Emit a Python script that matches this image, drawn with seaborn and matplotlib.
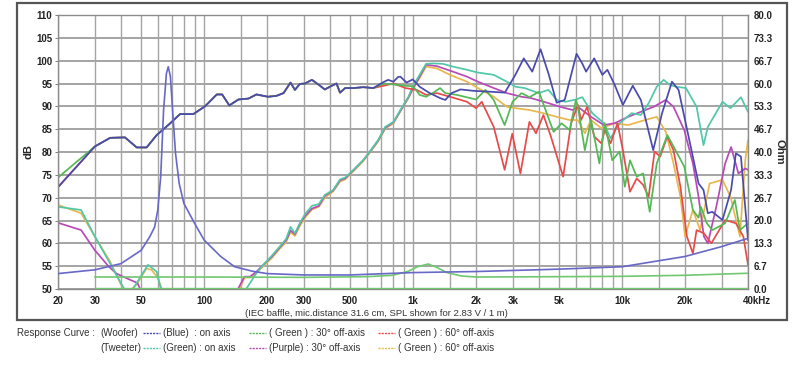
import matplotlib
matplotlib.use("Agg")
import matplotlib.pyplot as plt
import matplotlib.transforms as mtransforms
from matplotlib.lines import Line2D
from matplotlib.patches import Rectangle
from matplotlib.ticker import NullLocator
import seaborn as sns

sns.set_theme(style="white")
plt.rcParams["font.family"] = ["Liberation Sans", "DejaVu Sans"]

# --- data (Hz / dB / Ohm) ---
woofer_lf_freq = [30, 35.5, 41.8, 47.6, 53.1, 59.3, 67.4, 76.7, 88.8, 101, 115, 122,
                  132, 146, 163, 178, 202, 222, 240, 259, 272, 287, 304, 328, 354,
                  378, 400, 430, 447, 473, 518, 577, 645]
woofer_lf_db = [81.2, 83.1, 83.2, 81.0, 81.0, 83.7, 85.9, 88.3, 88.3, 90.0, 92.6, 92.6,
                90.2, 91.5, 91.7, 92.6, 92.1, 92.3, 92.9, 95.2, 93.6, 94.9, 95.0, 95.8, 94.7,
                93.7, 94.3, 95.0, 93.0, 94.0, 94.0, 94.2, 94.0]

woofer_on_freq = [721, 759, 805, 846, 869, 930, 996, 1074, 1200, 1346, 1425, 1528, 1685,
                  1940, 2335, 2746, 3084, 3384, 3713, 4070, 4440, 4860, 5310, 6050, 6440,
                  6720, 7350, 8040, 8500, 9210, 10080, 11240, 12290, 14080, 15520, 17310,
                  18620, 20780, 23200, 24500, 25700, 27000, 30200, 33200, 35000, 37000, 40000]
woofer_on_db = [95.3, 95.8, 95.4, 96.4, 96.5, 95.2, 95.9, 94.3, 92.9, 91.8, 91.4, 92.9, 93.7,
                93.4, 93.2, 93.0, 96.9, 100.5, 97.6, 102.5, 97.2, 90.8, 91.4, 101.5, 99.4,
                97.6, 100.5, 96.9, 98.0, 94.7, 90.3, 94.5, 91.4, 80.4, 88.5, 95.4,
                93.6, 83.4, 73.1, 71.7, 66.6, 66.9, 65.1, 71.7, 79.7, 79.0, 60.7]

woofer_30_freq = [721, 805, 920, 1000, 1074, 1153, 1250, 1346, 1425, 1620, 2000, 2220, 2430,
                  2740, 2990, 3300, 3600, 4000, 4300, 4700, 5130, 5610, 6010, 6140, 6630,
                  7100, 7780, 8260, 8970, 9720, 10300, 10900, 11740, 12600, 13550, 14640,
                  16450, 18000, 19820, 21800, 23200, 23800, 25400, 27000, 31100, 34600,
                  36600, 40000]
woofer_30_db = [95.0, 94.8, 94.5, 94.4, 92.5, 92.1, 93.0, 94.0, 92.9, 92.5, 91.5, 93.6, 91.4,
                85.9, 91.0, 92.9, 92.0, 93.2, 89.2, 84.4, 86.3, 84.8, 91.4, 89.9, 80.4,
                87.0, 77.5, 86.3, 78.2, 80.1, 72.4, 78.2, 74.6, 75.3, 66.9, 77.5,
                83.7, 80.4, 76.8, 67.3, 65.6, 68.0, 64.4, 62.9, 64.4, 69.5,
                62.9, 64.4]

woofer_60_freq = [721, 805, 920, 1040, 1153, 1300, 1500, 1810, 2000, 2130, 2430, 2740, 2980,
                  3260, 3600, 3870, 4200, 4560, 5220, 5700, 6140, 6360, 6800, 7350, 7950,
                  8260, 8800, 9500, 10080, 10900, 11740, 12600, 13390, 14290, 15200, 16450,
                  17600, 19000, 20400, 21800, 22700, 24600, 26700, 31100, 35000, 38000, 40000]
woofer_60_db = [94.5, 95.0, 94.0, 93.6, 92.5, 92.9, 92.1, 91.0, 89.6, 91.0, 85.5, 76.1, 84.0,
                75.3, 86.6, 84.1, 88.1, 83.4, 74.6, 86.3, 90.3, 87.0, 89.9, 83.4, 81.9,
                84.8, 81.9, 86.3, 80.4, 71.3, 74.2, 72.8, 70.2, 80.1, 79.0, 83.4,
                80.4, 72.4, 61.5, 57.8, 62.9, 62.2, 60.0, 65.1, 64.4, 61.5, 55.3]

tweeter_on_freq = [20, 25.8, 30, 35.5, 38.4, 41.5, 44, 47.6, 53.9, 59.3, 62.5, 66, 150, 159,
                   178, 192, 211, 230, 247, 259, 272, 287, 304, 328, 354, 378, 415, 447, 473,
                   518, 577, 620, 680, 735, 805, 869, 950, 996, 1074, 1153, 1240, 1390, 1550,
                   1810, 2040, 2430, 2807, 3084, 3422, 3980, 4440, 4860, 5350, 6010, 6440,
                   7200, 8180, 8800, 9720, 11100, 12290, 13390, 14640, 15800, 16900, 18050,
                   20200, 22700, 24500, 25700, 30200, 33000, 37000, 40000]
tweeter_on_db = [68.0, 67.3, 61.5, 55.6, 52.7, 50.0, 49.0, 51.3, 55.3, 53.8, 49.5, 45.0, 45.0, 50.0,
                 53.5, 55.3, 57.3, 59.3, 61.0, 63.6, 62.2, 64.4, 66.4, 68.2, 68.6, 70.6, 71.7, 74.0, 74.4,
                 76.1, 78.2, 80.1, 82.6, 85.5, 86.6, 89.2, 92.1, 94.4, 96.9, 99.3, 99.4, 99.3, 98.7,
                 98.0, 97.4, 96.9, 95.4, 94.3, 94.0, 92.9, 93.6, 91.4, 91.0, 91.5, 92.0,
                 88.5, 86.3, 83.0, 86.3, 88.5, 88.1, 90.7, 94.3, 95.8, 94.7, 94.3,
                 94.0, 89.9, 81.5, 85.5, 91.0, 89.6, 92.0, 88.8]

tweeter_30_freq = [20, 25.8, 30, 35, 38, 41, 48, 50, 53, 140, 146, 156, 166, 178, 192, 211,
                   230, 247, 259, 272, 287, 304, 328, 354, 378, 415, 447, 473, 518, 577, 620,
                   680, 735, 805, 869, 950, 1000, 1074, 1153, 1300, 1550, 1810, 2040, 2430,
                   2807, 3300, 3670, 4440, 5050, 5800, 6140, 7100, 8180, 9210, 10680, 12290,
                   14150, 16180, 17600, 19820, 21800, 23200, 24600, 25700, 28200, 31100,
                   33200, 36000, 38800, 40000]
tweeter_30_db = [64.5, 62.9, 58.5, 54.9, 53.4, 52.7, 51.3, 49.5, 45.0, 46.0, 50.2, 52.7, 52.7, 53.8, 55.3, 57.1,
                 59.1, 60.7, 62.8, 62.0, 64.2, 66.0, 67.6, 68.2, 70.4, 71.6, 73.8, 74.2, 76.0, 78.2, 80.0,
                 82.5, 85.3, 86.5, 89.0, 92.0, 94.0, 96.5, 99.1, 98.8, 97.6, 96.5, 95.4, 94.0,
                 92.9, 92.1, 91.8, 90.7, 89.9, 89.2, 89.9, 87.7, 85.9, 86.3, 87.7, 88.8,
                 89.9, 91.4, 89.9, 84.8, 77.5, 70.2, 61.5, 60.0, 68.0, 77.5,
                 81.1, 75.3, 76.4, 76.1]

tweeter_60_freq = [20, 25.8, 30, 35.5, 41, 44, 47.6, 53, 56, 60, 63.3, 66, 140, 148, 156, 166,
                   178, 192, 211, 230, 247, 259, 272, 287, 304, 328, 354, 378, 415, 447, 473,
                   518, 577, 620, 680, 735, 805, 869, 950, 1000, 1074, 1153, 1300, 1500, 1810,
                   2040, 2430, 2807, 3084, 3600, 4200, 4860, 5610, 6140, 6630, 7100, 7950,
                   9210, 10680, 12860, 14640, 16180, 17600, 19000, 20000, 21800, 23600,
                   26200, 30200, 33000, 36600, 38800, 40000]
tweeter_60_db = [68.4, 66.6, 61.5, 56.0, 50.0, 49.5, 51.0, 54.5, 54.2, 52.5, 49.5, 45.0, 45.0, 50.0, 52.5, 52.5,
                 53.5, 55.0, 56.8, 58.8, 60.3, 62.5, 61.6, 63.8, 65.6, 67.4, 68.0, 70.0, 71.4, 73.5, 74.0,
                 75.8, 78.0, 79.8, 82.3, 85.1, 86.3, 88.9, 91.8, 93.8, 96.2, 98.7, 98.3, 96.9, 95.4,
                 94.0, 92.1, 89.9, 89.6, 89.2, 88.5, 87.7, 87.0, 87.0, 84.1, 87.0, 85.2,
                 86.3, 85.9, 87.0, 87.7, 84.4, 77.5, 70.2, 61.5, 67.3, 62.9,
                 73.1, 73.9, 70.2, 61.5, 78.2, 82.6]

woofer_imp_freq = [20, 30, 40, 50, 55, 58, 60, 62, 64, 66, 67.4, 69, 71, 73, 76, 80, 90, 100,
                   120, 140, 170, 200, 300, 500, 1000, 2000, 5000, 10000, 20000, 30000, 40000]
woofer_imp_ohm = [4.5, 5.6, 7.4, 11.3, 15.3, 18.1, 23.0, 32.8, 52.3, 62.9, 64.9, 62.0, 50.3, 39.6,
                  30.8, 25.0, 19.2, 14.3, 9.5, 6.5, 5.2, 4.5, 4.1, 4.1, 4.8, 5.1, 5.8, 6.5, 9.5,
                  12.4, 14.8]

tweeter_imp_freq = [30, 100, 300, 600, 800, 950, 1050, 1180, 1300, 1450, 1700, 2000, 5000,
                    10000, 20000, 40000]
tweeter_imp_ohm = [3.5, 3.5, 3.4, 3.6, 4.0, 5.2, 6.5, 7.3, 6.3, 4.8, 3.8, 3.5, 3.6, 3.7, 4.0, 4.6]

floor_imp_freq = [30, 40000]
floor_imp_ohm = [0.3, 0.3]

grid_freqs = [20, 30, 40, 50, 60, 70, 80, 90, 100, 150, 200, 300, 400, 500, 600, 700, 800,
              900, 1000, 1500, 2000, 3000, 4000, 5000, 6000, 7000, 8000, 9000, 10000, 15000,
              20000, 30000, 40000]
labeled = {20: "20", 30: "30", 50: "50", 100: "100", 200: "200", 300: "300", 500: "500",
           1000: "1k", 2000: "2k", 3000: "3k", 5000: "5k", 10000: "10k", 20000: "20k",
           40000: "40kHz"}
db_ticks = list(range(50, 111, 5))
ohm_ticks = [0.0, 6.7, 13.3, 20.0, 26.7, 33.3, 40.0, 46.7, 53.3, 60.0, 66.7, 73.3, 80.0]

blue = "#4a4aae"
green = "#55b855"
red = "#e84a4a"
teal = "#50c8a8"
purple = "#b84ab8"
yellow = "#e8b84c"
imp_blue = "#6868c8"
imp_green = "#70c870"
gridc = "#a4a4a4"

W, H = 798, 368
fig = plt.figure(figsize=(W / 100, H / 100), dpi=100)
fig.patch.set_facecolor("white")
ax = fig.add_axes([58 / W, 1 - 289 / H, 690 / W, 274 / H])
ax.set_xscale("log")

# response curves
for f, v, c in [(tweeter_60_freq, tweeter_60_db, yellow),
                (tweeter_30_freq, tweeter_30_db, purple),
                (tweeter_on_freq, tweeter_on_db, teal),
                ([20] + woofer_lf_freq + woofer_60_freq, [72.3] + woofer_lf_db + woofer_60_db, red),
                ([20] + woofer_lf_freq + woofer_30_freq, [74.4] + woofer_lf_db + woofer_30_db, green),
                ([20] + woofer_lf_freq + woofer_on_freq, [72.3] + woofer_lf_db + woofer_on_db, blue)]:
    sns.lineplot(x=f, y=v, ax=ax, color=c, linewidth=1.25, sort=False, estimator=None)

ax.set_xlim(20, 40000)
ax.set_ylim(50, 110)
ax.set_xticks(grid_freqs)
ax.set_xticklabels([labeled.get(g, "") for g in grid_freqs])
ax.xaxis.set_minor_locator(NullLocator())
ax.set_yticks(db_ticks)
ax.grid(True, axis="x", color=gridc, linewidth=1.0)
ax.grid(True, axis="y", color=gridc, linewidth=1.4)
ax.set_axisbelow(True)
ax.tick_params(axis="x", length=0, pad=5, labelsize=7)
ax.tick_params(axis="y", length=2, width=0.6, color="#666666", pad=2, labelsize=7)
for lab in ax.get_xticklabels() + ax.get_yticklabels():
    lab.set_fontweight("bold")
    lab.set_color("#222222")
last = ax.get_xticklabels()[-1]
last.set_transform(last.get_transform() + mtransforms.ScaledTranslation(9 / 100, 0, fig.dpi_scale_trans))
ax.set_xlabel("")
ax.set_ylabel("dB", fontsize=8, fontweight="bold")
ax.yaxis.set_label_coords(-0.036, 0.5)
for s in ax.spines.values():
    s.set_color("#8c8c8c")
    s.set_linewidth(1.0)

# impedance curves on the Ohm scale
ax2 = ax.twinx()
sns.lineplot(x=floor_imp_freq, y=floor_imp_ohm, ax=ax2, color=imp_green, linewidth=1.0)
sns.lineplot(x=tweeter_imp_freq, y=tweeter_imp_ohm, ax=ax2, color=imp_green, linewidth=1.2)
sns.lineplot(x=woofer_imp_freq, y=woofer_imp_ohm, ax=ax2, color=imp_blue, linewidth=1.2)
ax2.set_ylim(0, 80)
ax2.set_yticks(ohm_ticks)
ax2.set_yticklabels([f"{t:.1f}" for t in ohm_ticks])
ax2.tick_params(axis="y", length=0, pad=4, labelsize=7)
for lab in ax2.get_yticklabels():
    lab.set_fontweight("bold")
    lab.set_color("#222222")
ax2.set_ylabel("Ohm", fontsize=8, fontweight="bold", rotation=270, va="center")
ax2.yaxis.set_label_coords(1.046, 0.5)
ax2.grid(False)
for s in ax2.spines.values():
    s.set_visible(False)

# outer frame
fig.add_artist(Rectangle((17 / W, 1 - 320 / H), 770 / W, 317 / H, transform=fig.transFigure,
                         fill=False, edgecolor="#555555", linewidth=1.6))

fig.text(376 / W, 1 - 313 / H, "(IEC baffle, mic.distance 31.6 cm, SPL shown for 2.83 V / 1 m)",
         fontsize=6.8, ha="center", va="center", color="#333333")

# legend under the frame
rows = [333, 348]
fig.text(17 / W, 1 - rows[0] / H, "Response Curve :", fontsize=7, va="center", color="#333333")
legend_rows = [
    ("(Woofer)", [(blue, "(Blue)  : on axis"), (green, "( Green ) : 30° off-axis"),
                  (red, "( Green ) : 60° off-axis")]),
    ("(Tweeter)", [(teal, "(Green) : on axis"), (purple, "(Purple) : 30° off-axis"),
                   (yellow, "( Green ) : 60° off-axis")]),
]
starts = [143, 249, 378]
for (name, entries), yy in zip(legend_rows, rows):
    fy = 1 - yy / H
    fig.text(100 / W, fy, name, fontsize=7, va="center", color="#333333")
    for (c, txt), x0 in zip(entries, starts):
        fig.add_artist(Line2D([x0 / W, (x0 + 17) / W], [fy, fy], transform=fig.transFigure,
                              color=c, linewidth=1.0, linestyle=(0, (1.5, 0.8))))
        fig.text((x0 + 20) / W, fy, txt, fontsize=7, va="center", color="#333333")

fig.savefig("out.png", dpi=100)
